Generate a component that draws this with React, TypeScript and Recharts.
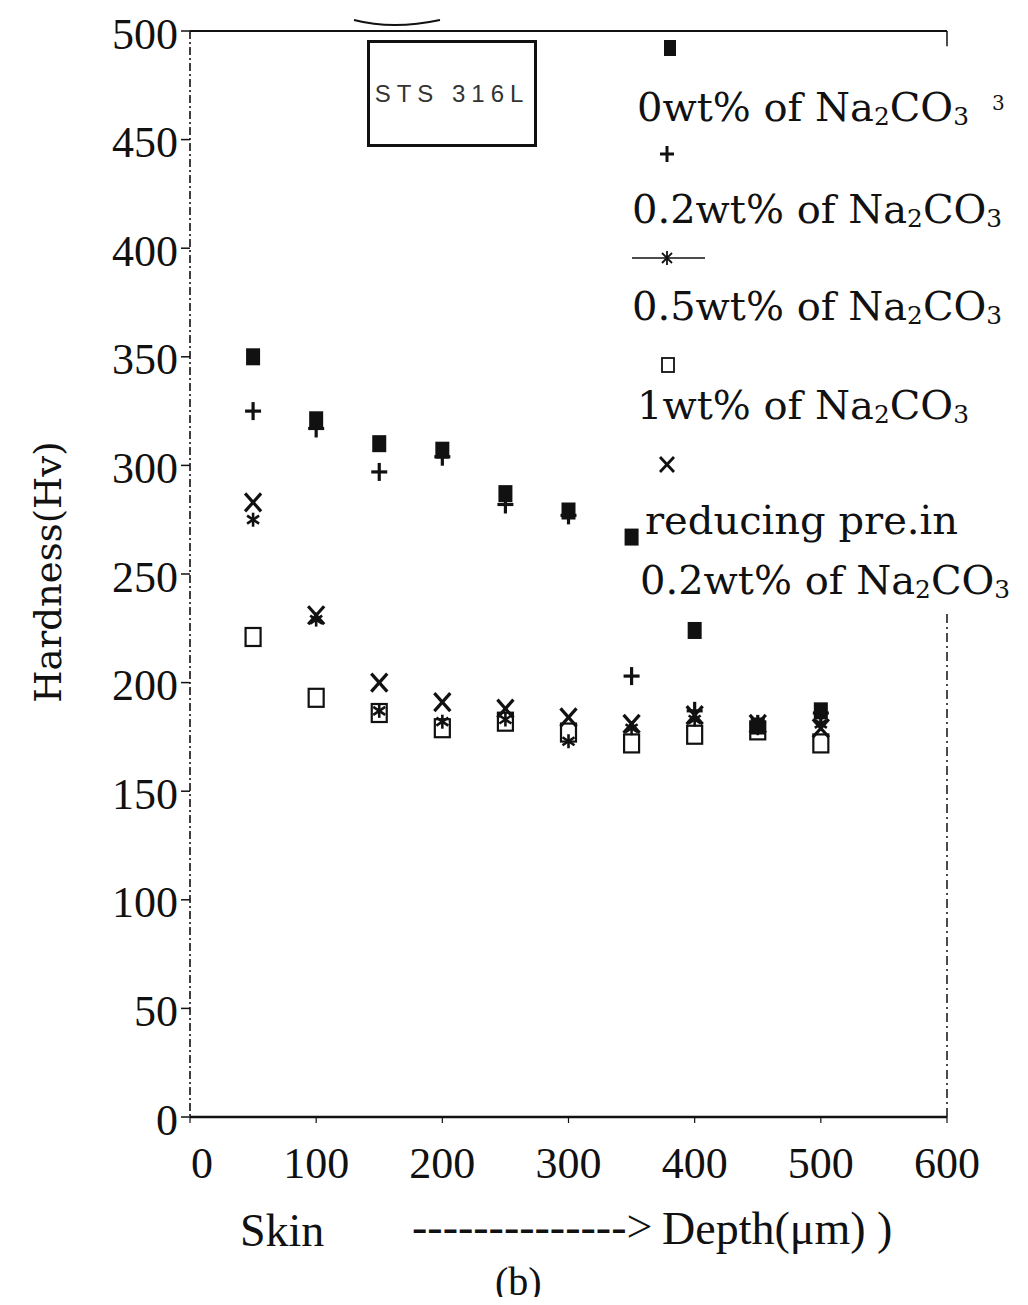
import React from 'react';
import { ScatterChart, Scatter, XAxis, YAxis, ReferenceLine } from 'recharts';

const depthUm = [50, 100, 150, 200, 250, 300, 350, 400, 450, 500];
const hv0wt = [350, 321, 310, 307, 287, 279, 267, 224, 180, 187];
const hv02wt = [325, 317, 297, 304, 282, 277, 203, 187, 181, 186];
const hv05wt = [275, 229, 187, 182, 183, 173, 179, 183, 179, 181];
const hv1wt = [221, 193, 186, 179, 182, 177, 172, 176, 178, 172];
const hvReduced = [283, 231, 200, 191, 188, 184, 181, 185, 181, 179];
const xTickValues = [0, 100, 200, 300, 400, 500, 600];
const yTickValues = [0, 50, 100, 150, 200, 250, 300, 350, 400, 450, 500];

const legendLabels = [
  '0wt% of ',
  '0.2wt% of ',
  '0.5wt% of ',
  '1wt% of ',
  'reducing pre.in',
  '0.2wt% of ',
];

const toPoints = (ys: number[]) => depthUm.map((x, i) => ({ x, y: ys[i] }));

const INK = '#111';
const TIMES = "'Liberation Serif', 'Times New Roman', serif";
const CENTURY = "'DejaVu Serif', serif";

const FilledSquare = ({ cx, cy }: any) => (
  <rect x={cx - 7} y={cy - 8.5} width={14} height={17} fill={INK} />
);
const Plus = ({ cx, cy }: any) => (
  <g stroke={INK} strokeWidth={3.2}>
    <line x1={cx - 8} y1={cy} x2={cx + 8} y2={cy} />
    <line x1={cx} y1={cy - 9} x2={cx} y2={cy + 9} />
  </g>
);
const Cross = ({ cx, cy }: any) => (
  <g stroke={INK} strokeWidth={3.2}>
    <line x1={cx - 8} y1={cy - 9} x2={cx + 8} y2={cy + 9} />
    <line x1={cx - 8} y1={cy + 9} x2={cx + 8} y2={cy - 9} />
  </g>
);
const OpenSquare = ({ cx, cy }: any) => (
  <rect x={cx - 7.5} y={cy - 9} width={15} height={18} fill="none" stroke={INK} strokeWidth={2.2} />
);
const Star = ({ cx, cy }: any) => (
  <g stroke={INK} strokeWidth={2.6}>
    <line x1={cx} y1={cy - 7} x2={cx} y2={cy + 7} />
    <line x1={cx - 6} y1={cy - 4} x2={cx + 6} y2={cy + 4} />
    <line x1={cx - 6} y1={cy + 4} x2={cx + 6} y2={cy - 4} />
  </g>
);

const YTick = ({ x, y, payload }: any) => (
  <text x={x} y={y + 3} textAnchor="end" dominantBaseline="central" fontFamily={TIMES} fontSize={44} fill={INK}>
    {payload.value}
  </text>
);
const XTick = ({ x, y, payload }: any) => (
  <text
    x={payload.value === 0 ? x + 12 : x}
    y={y + 40}
    textAnchor="middle"
    dominantBaseline="central"
    fontFamily={TIMES}
    fontSize={44}
    fill={INK}
  >
    {payload.value}
  </text>
);

const Sub = ({ children }: any) => (
  <span style={{ fontSize: '0.62em', position: 'relative', top: '0.18em' }}>{children}</span>
);
const Na2CO3 = () => (
  <>
    Na<Sub>2</Sub>CO<Sub>3</Sub>
  </>
);

const Txt = ({ left, cy, size, family, children, extra }: any) => (
  <div
    style={{
      position: 'absolute',
      left,
      top: cy,
      transform: 'translateY(-50%)',
      fontFamily: family,
      fontSize: size,
      lineHeight: 1,
      whiteSpace: 'nowrap',
      color: INK,
      ...(extra || {}),
    }}
  >
    {children}
  </div>
);

export default function App() {
  const W = 1012;
  const H = 1289;
  return (
    <div style={{ position: 'relative', width: W, height: H, background: '#fff' }}>
      <ScatterChart width={W} height={H} margin={{ top: 23, right: 73, bottom: 120, left: 0 }}>
        <XAxis
          type="number"
          dataKey="x"
          domain={[0, 600]}
          ticks={xTickValues}
          height={60}
          tickSize={6}
          tickMargin={0}
          tick={<XTick />}
          axisLine={{ stroke: INK, strokeWidth: 2.5 }}
          tickLine={{ stroke: INK, strokeWidth: 1.2 }}
          allowDataOverflow
        />
        <YAxis
          type="number"
          dataKey="y"
          domain={[0, 500]}
          ticks={yTickValues}
          width={182}
          tickSize={9}
          tickMargin={3}
          tick={<YTick />}
          axisLine={{ stroke: INK, strokeWidth: 1.6, strokeDasharray: '8 3 2 3' }}
          tickLine={{ stroke: INK, strokeWidth: 1.5 }}
          allowDataOverflow
        />
        <ReferenceLine y={500} stroke={INK} strokeWidth={2} />
        <ReferenceLine
          segment={[{ x: 600, y: 0 }, { x: 600, y: 232 }]}
          stroke={INK}
          strokeWidth={1.5}
          strokeDasharray="9 4 2 4"
        />
        <ReferenceLine segment={[{ x: 600, y: 500 }, { x: 600, y: 493 }]} stroke={INK} strokeWidth={1.5} />
        <Scatter name="1wt% of Na2CO3" data={toPoints(hv1wt)} shape={OpenSquare} isAnimationActive={false} />
        <Scatter name="0.5wt% of Na2CO3" data={toPoints(hv05wt)} shape={Star} isAnimationActive={false} />
        <Scatter name="reducing pre.in 0.2wt% of Na2CO3" data={toPoints(hvReduced)} shape={Cross} isAnimationActive={false} />
        <Scatter name="0.2wt% of Na2CO3" data={toPoints(hv02wt)} shape={Plus} isAnimationActive={false} />
        <Scatter name="0wt% of Na2CO3" data={toPoints(hv0wt)} shape={FilledSquare} isAnimationActive={false} />
      </ScatterChart>

      {/* legend markers */}
      <svg
        width={W}
        height={H}
        style={{ position: 'absolute', left: 0, top: 0, pointerEvents: 'none' }}
      >
        <rect x={656} y={32} width={12} height={16} fill={INK} />
        <g stroke={INK} strokeWidth={3}>
          <line x1={652} y1={146} x2={666} y2={146} />
          <line x1={659} y1={138} x2={659} y2={154} />
        </g>
        <line x1={624} y1={250} x2={697} y2={250} stroke={INK} strokeWidth={1.6} />
        <g stroke={INK} strokeWidth={1.8}>
          <line x1={659} y1={243} x2={659} y2={257} />
          <line x1={654} y1={245} x2={664} y2={255} />
          <line x1={654} y1={255} x2={664} y2={245} />
        </g>
        <rect x={654} y={350} width={12} height={14} fill="none" stroke={INK} strokeWidth={1.8} />
        <g stroke={INK} strokeWidth={2.8}>
          <line x1={652} y1={449} x2={666} y2={464} />
          <line x1={652} y1={464} x2={666} y2={449} />
        </g>
        <path d="M 346 12 Q 385 22 432 12" fill="none" stroke={INK} strokeWidth={2} />
      </svg>

      {/* legend texts */}
      <Txt left={629} cy={99} size={40} family={CENTURY}>
        {legendLabels[0]}
        <Na2CO3 />
      </Txt>
      <Txt left={984} cy={95} size={20} family={CENTURY}>3</Txt>
      <Txt left={624} cy={201} size={40} family={CENTURY}>
        {legendLabels[1]}
        <Na2CO3 />
      </Txt>
      <Txt left={624} cy={298} size={40} family={CENTURY}>
        {legendLabels[2]}
        <Na2CO3 />
      </Txt>
      <Txt left={629} cy={397} size={40} family={CENTURY}>
        {legendLabels[3]}
        <Na2CO3 />
      </Txt>
      <Txt left={637} cy={512} size={40} family={CENTURY}>
        {legendLabels[4]}
      </Txt>
      <Txt left={632} cy={572} size={40} family={CENTURY}>
        {legendLabels[5]}
        <Na2CO3 />
      </Txt>

      {/* STS 316L box */}
      <div
        style={{
          position: 'absolute',
          left: 359,
          top: 32,
          width: 164,
          height: 101,
          border: `3px solid ${INK}`,
          display: 'flex',
          alignItems: 'center',
          justifyContent: 'center',
          fontFamily: "'Liberation Sans', sans-serif",
          fontSize: 24,
          letterSpacing: 6,
          color: '#333',
        }}
      >
        STS 316L
      </div>

      {/* y axis title */}
      <div
        style={{
          position: 'absolute',
          left: 40,
          top: 564,
          transform: 'translate(-50%, -50%) rotate(-90deg)',
          fontFamily: CENTURY,
          fontSize: 37,
          lineHeight: 1,
          whiteSpace: 'nowrap',
          color: INK,
        }}
      >
        Hardness(Hv)
      </div>

      {/* x axis titles */}
      <Txt left={232} cy={1223} size={46} family={TIMES}>Skin</Txt>
      <Txt left={404} cy={1219} size={46} family={TIMES}>{'-------------->'}</Txt>
      <Txt left={654} cy={1221} size={46} family={TIMES}>{'Depth(μm) )'}</Txt>
      <Txt left={487} cy={1274} size={40} family={TIMES}>(b)</Txt>
    </div>
  );
}
